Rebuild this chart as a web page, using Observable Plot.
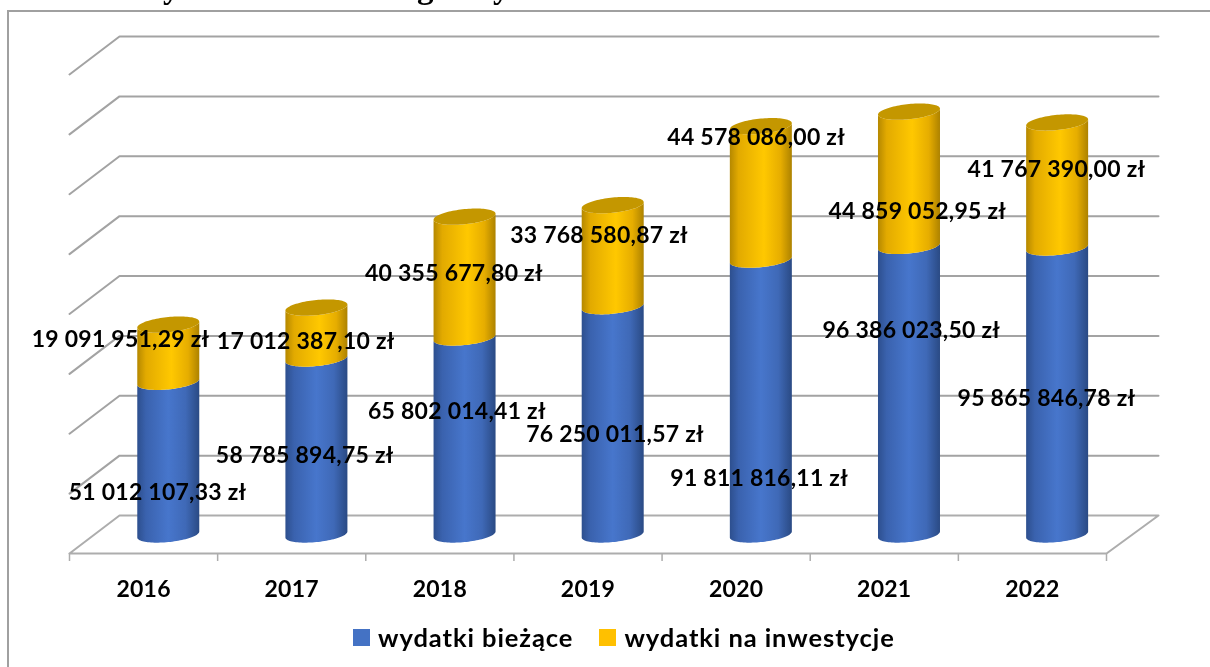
<!DOCTYPE html>
<html lang="pl">
<head>
<meta charset="utf-8">
<script src="https://cdn.jsdelivr.net/npm/d3@7"></script>
<script src="https://cdn.jsdelivr.net/npm/@observablehq/plot@0.6"></script>
<style>
  html, body { margin: 0; padding: 0; background: #fff; overflow: hidden; }
  #page { position: relative; width: 1210px; height: 667px; overflow: hidden; filter: blur(0.4px); }
  #frame { position: absolute; left: 7px; top: 10px; right: -5px; bottom: -5px; border: 2px solid #a0a0a0; }
  #chart { position: absolute; left: 0; top: 0; }
  #chart svg { display: block; background: transparent; }
  #chart svg text { letter-spacing: 0.25px; -webkit-text-stroke: 0.25px #000; }
  .clip { position: absolute; font: bold 33px/33px "Liberation Serif", serif; color: #000; }
  #legend { position: absolute; left: 353px; top: 621px; height: 32px; display: flex; align-items: center;
            font: 700 25.5px "Lato", sans-serif; color: #000; letter-spacing: 0.93px; white-space: nowrap; }
  #legend i { display: inline-block; width: 17px; height: 17px; margin-right: 8px; }
  #legend span { display: inline-flex; align-items: center; margin-right: 26px; }
</style>
</head>
<body>
<div id="page">
  <span class="clip" style="left:163px;top:-29px">y</span>
  <span class="clip" style="left:417px;top:-29px">g</span>
  <span class="clip" style="left:493px;top:-29px">y</span>
  <div id="frame"></div>
  <div id="chart"></div>
  <div id="legend"></div>
</div>
<script>
// --- data ---
const years = ["2016", "2017", "2018", "2019", "2020", "2021", "2022"];
const current = [51012107.33, 58785894.75, 65802014.41, 76250011.57, 91811816.11, 96386023.50, 95865846.78];
const investment = [19091951.29, 17012387.10, 40355677.80, 33768580.87, 44578086.00, 44859052.95, 41767390.00];
const currentText = ["51 012 107,33 zł", "58 785 894,75 zł", "65 802 014,41 zł", "76 250 011,57 zł", "91 811 816,11 zł", "96 386 023,50 zł", "95 865 846,78 zł"];
const investmentText = ["19 091 951,29 zł", "17 012 387,10 zł", "40 355 677,80 zł", "33 768 580,87 zł", "44 578 086,00 zł", "44 859 052,95 zł", "41 767 390,00 zł"];
const gridValues = [20e6, 40e6, 60e6, 80e6, 100e6, 120e6, 140e6, 160e6];
const seriesNames = ["wydatki bieżące", "wydatki na inwestycje"];
const seriesColors = ["#4472c4", "#ffc000"];

// --- layout: chart is an Excel-style 3-D box, projected with a fixed depth ---
const xRange = [69, 1106], yRange = [515, 36], yMax = 160e6;
const pxX = (xRange[1] - xRange[0]) / years.length;            // px per category
const pxY = (yRange[0] - yRange[1]) / yMax;                    // px per value unit
const X = p => p / pxX, Y = p => p / pxY;                      // px lengths in data units
const depthLeft = X(50), depthRight = X(52), depthY = Y(38);
// hand placement of the data labels, px offset of the label from the category centre / from the value level
const currentShift = [[14, 492], [13, 455], [17, 411], [27, 434], [23, 478], [27, 330], [14, 398]];
const investmentShift = [[-23, 339], [14, 341], [14, 273], [11, 235], [20, 137], [33, 211], [24, 169]];

const rx = X(31), ry = Y(7.6), skew = Y(3);
const ellipsePoint = (cx, cy, t) => ({ x: cx + rx * Math.cos(t), y: cy + ry * Math.sin(t) + skew * Math.cos(t) });
const angles = d3.range(0, 49).map(i => i / 48 * Math.PI);     // half-turn from right edge to left edge
const centerX = i => i + 0.5 + X(24.7);
const floorY = -depthY / 2;                                    // cylinders stand halfway along the floor depth

function bodyShape(id, i, from, to) {
  const cx = centerX(i), pts = [];
  // top edge, front half: left to right
  for (const a of angles) pts.push(ellipsePoint(cx, floorY + to, Math.PI + a));
  // bottom edge, front half: right to left
  for (const a of angles) pts.push(ellipsePoint(cx, floorY + from, 2 * Math.PI - a));
  return pts.map(p => ({ ...p, id }));
}
function capShape(id, i, level) {
  const cx = centerX(i), pts = [];
  for (const a of d3.range(0, 97)) pts.push(ellipsePoint(cx, floorY + level, a / 96 * 2 * Math.PI));
  return pts.map(p => ({ ...p, id }));
}
const blueBodies = years.flatMap((y, i) => bodyShape("b" + i, i, 0, current[i]));
const goldBodies = years.flatMap((y, i) => bodyShape("g" + i, i, current[i], current[i] + investment[i]));
const goldCaps = years.flatMap((y, i) => capShape("c" + i, i, current[i] + investment[i]));

const gridPaths = gridValues.flatMap(v => [
  { id: v, x: 0, y: v - depthY },
  { id: v, x: depthLeft, y: v },
  { id: v, x: years.length + depthRight, y: v }
]);
const floorPath = [
  { x: 0, y: -depthY }, { x: depthLeft, y: 0 }, { x: years.length + depthRight, y: 0 },
  { x: years.length, y: -depthY }, { x: 0, y: -depthY }
];
const tickEdges = d3.range(years.length + 1);
const tickCentres = years.map((y, i) => i + 0.5);
const yPixel = p => (yRange[0] - p) / pxY;                     // hand-placed label heights → data units

const currentLabels = currentText.map((t, i) => ({ t, x: i + 0.5 + X(currentShift[i][0]), y: yPixel(currentShift[i][1]) }));
const investmentLabels = investmentText.map((t, i) => ({ t, x: i + 0.5 + X(investmentShift[i][0]), y: yPixel(investmentShift[i][1]) }));

const labelFont = { fontFamily: "Lato, sans-serif", fontWeight: 700, fontSize: 23, fill: "#000" };

function gradients() {
  const svg = d3.create("svg:defs");
  const add = (id, stops) => {
    const g = svg.append("linearGradient").attr("id", id).attr("x1", 0).attr("x2", 1).attr("y1", 0).attr("y2", 0);
    stops.forEach(([o, c]) => g.append("stop").attr("offset", o).attr("stop-color", c));
  };
  add("blueBody", [[0, "#2d4f8e"], [0.14, "#3a62ae"], [0.5, "#4776cc"], [0.78, "#3f69b7"], [1, "#2a4a84"]]);
  add("goldBody", [[0, "#b58800"], [0.14, "#e2aa00"], [0.55, "#ffc800"], [0.82, "#e6ad00"], [1, "#ad8200"]]);
  return svg.node();
}

const chart = Plot.plot({
  width: 1210, height: 610,
  marginTop: 0, marginLeft: 0, marginRight: 0, marginBottom: 57,
  x: { type: "linear", domain: [0, years.length], range: xRange, axis: null },
  y: { type: "linear", domain: [0, yMax], range: yRange, axis: null },
  style: { background: "transparent", overflow: "visible" },
  marks: [
    gradients,
    Plot.line(gridPaths, { x: "x", y: "y", z: "id", stroke: "#a3a3a3", strokeWidth: 2, curve: "linear" }),
    Plot.line(floorPath, { x: "x", y: "y", stroke: "#adadad", strokeWidth: 2, curve: "linear" }),
    Plot.ruleX(tickEdges, { x: d => d, y1: -depthY, y2: -depthY - Y(8), stroke: "#adadad", strokeWidth: 1.5 }),
    Plot.line(blueBodies, { x: "x", y: "y", z: "id", fill: "url(#blueBody)", stroke: "none" }),
    Plot.line(goldBodies, { x: "x", y: "y", z: "id", fill: "url(#goldBody)", stroke: "none" }),
    Plot.line(goldCaps, { x: "x", y: "y", z: "id", fill: "#c49700", stroke: "none" }),
    Plot.axisX(tickCentres, {
      anchor: "bottom", tickSize: 0, tickPadding: 27,
      tickFormat: d => years[Math.round(d - 0.5)],
      fontFamily: "Lato, sans-serif", fontWeight: 700, fontSize: 23, fill: "#000", label: null
    }),
    Plot.text(investmentLabels, { x: "x", y: "y", text: "t", ...labelFont }),
    Plot.text(currentLabels, { x: "x", y: "y", text: "t", ...labelFont })
  ]
});
document.getElementById("chart").append(chart);

const legend = d3.select("#legend");
seriesNames.forEach((name, i) => {
  const s = legend.append("span");
  s.append("i").style("background", seriesColors[i]);
  s.append("b").style("font-weight", 700).text(name);
});
</script>
</body>
</html>
